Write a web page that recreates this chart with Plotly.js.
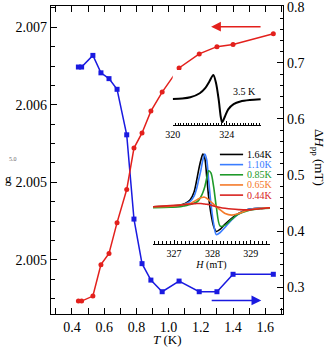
<!DOCTYPE html>
<html><head><meta charset="utf-8">
<script src="https://cdn.plot.ly/plotly-3.0.1.min.js"></script>
<style>html,body{margin:0;padding:0;background:#fff;}#chart{width:327px;height:347px;}</style>
</head><body><div id="chart"></div>
<script>
// Main series
const T = [0.44,0.46,0.53,0.58,0.63,0.68,0.74,0.785,0.835,0.89,0.96,1.065,1.19,1.30,1.40,1.65];
const gFactor = [2.00659,2.00659,2.00671,2.00653,2.00647,2.00636,2.00589,2.00502,2.00456,2.00439,2.00427,2.00438,2.00427,2.00427,2.00445,2.00445];
const dHpp = [0.275,0.275,0.284,0.340,0.360,0.415,0.474,0.548,0.575,0.614,0.648,0.691,0.716,0.729,0.733,0.752];
const gTickVals = [2.0070,2.0062,2.0054,2.0046];
const gTickText = ["2.007","2.006","2.005","2.005"];

// Inset 1: spectrum at 3.5 K
const H1 = [320.0,320.7,321.3,322.0,322.4,322.7,323.0,323.2,323.4,323.55,323.65,323.85,324.1,324.5,325.0,325.7,326.5];
const S35 = [0,0.02,0.07,0.24,0.45,0.72,1.0,0.67,-0.04,-0.74,-0.97,-0.74,-0.43,-0.21,-0.10,-0.04,-0.01];

// Inset 2: spectra at several temperatures
const H2 = [326.45,326.90,327.16,327.29,327.42,327.52,327.59,327.64,327.70,327.75,327.80,327.85,327.90,327.96,328.03,328.10,328.20,328.33,328.50,328.68,328.90,329.24,329.50];
const S164 = [0,0.01,0.03,0.06,0.13,0.28,0.51,0.70,0.89,1.0,0.92,0.57,0.19,-0.13,-0.37,-0.47,-0.43,-0.33,-0.22,-0.13,-0.06,-0.03,-0.02];
const S110 = [0,0,0.02,0.05,0.10,0.20,0.35,0.51,0.70,0.89,1.0,0.89,0.51,0.06,-0.32,-0.53,-0.49,-0.39,-0.25,-0.14,-0.06,-0.03,-0.02];
const S085 = [-0.02,-0.01,0.0,0.02,0.04,0.07,0.09,0.12,0.19,0.27,0.38,0.54,0.68,0.64,0.38,0.0,-0.37,-0.35,-0.24,-0.14,-0.08,-0.04,-0.03];
const S065 = [0,0.01,0.03,0.045,0.06,0.10,0.13,0.15,0.17,0.18,0.18,0.16,0.13,0.09,0.05,0.0,-0.06,-0.13,-0.16,-0.13,-0.07,-0.03,-0.02];
const S044 = [0,0.02,0.03,0.04,0.05,0.055,0.06,0.06,0.06,0.055,0.05,0.045,0.04,0.03,0.015,0.0,-0.015,-0.03,-0.045,-0.055,-0.06,-0.04,-0.02];
const specLabels = ["1.64K","1.10K","0.85K","0.65K","0.44K"];
const specColors = ["#000000","#3a7dff","#1f9a2a","#f47a2a","#d8231f"];
const specData = [S164,S110,S085,S065,S044];

const BLUE = "#1a1ae0", RED = "#e3201c";
const FONT = "Liberation Serif, serif";

const traces = [
  {x:T, y:gFactor, xaxis:'x', yaxis:'y', mode:'lines+markers', line:{color:BLUE,width:1.5},
   marker:{symbol:'square',size:5,color:BLUE}, showlegend:false},
  {x:T, y:dHpp, xaxis:'x', yaxis:'y2', mode:'lines+markers', line:{color:RED,width:1.5},
   marker:{symbol:'circle',size:5,color:RED}, showlegend:false},
  {x:H1, y:S35, xaxis:'x3', yaxis:'y3', mode:'lines', line:{color:'#000',width:2,shape:'spline',smoothing:0.8}, showlegend:false}
];
specData.forEach((s,i)=>{
  traces.push({x:H2, y:s, xaxis:'x4', yaxis:'y4', mode:'lines',
    line:{color:specColors[i],width:1.6,shape:'spline',smoothing:0.8}, showlegend:false});
});

// legend for inset 2 (manual, compact)
const legY = [0.518,0.485,0.452,0.419,0.386];
const shapes = [], annotations = [];
specLabels.forEach((lab,i)=>{
  shapes.push({type:'line', xref:'paper', yref:'paper', x0:0.728, x1:0.828, y0:legY[i], y1:legY[i],
    line:{color:specColors[i], width:1.6}});
  annotations.push({xref:'paper', yref:'paper', x:0.838, y:legY[i], xanchor:'left', yanchor:'middle',
    text:lab, showarrow:false, font:{family:FONT,size:10,color:specColors[i]}});
});

annotations.push(
  {xref:'paper', yref:'paper', x:0.836, y:0.721, text:'3.5 K', showarrow:false, xanchor:'center', yanchor:'middle',
   font:{family:FONT,size:10,color:'#000'}},
  {xref:'paper', yref:'paper', x:0.5, y:-0.083, text:'<i>T</i> (K)', showarrow:false, yanchor:'middle',
   font:{family:FONT,size:13,color:'#000'}},
  {xref:'paper', yref:'paper', x:-0.185, y:0.44, text:'g', showarrow:false, xanchor:'center', yanchor:'middle',
   font:{family:FONT,size:13,color:'#000'}},
  {xref:'paper', yref:'paper', x:1.151, y:0.51, text:'Δ<i>H</i><sub>pp</sub> (mT)', showarrow:false, textangle:90,
   xanchor:'center', yanchor:'middle', font:{family:FONT,size:13,color:'#000'}},
  {xref:'paper', yref:'paper', x:-0.19, y:0.503, text:'5.0', showarrow:false, font:{family:FONT,size:6,color:'#666'}},
  // direction arrows
  {xref:'x', yref:'y2', axref:'x', ayref:'y2', x:1.264, y:0.7645, ax:1.58, ay:0.7645, showarrow:true,
   arrowhead:2, arrowsize:1.3, arrowwidth:1.5, arrowcolor:RED, text:''},
  {xref:'x', yref:'y', axref:'x', ayref:'y', x:1.575, y:2.00418, ax:1.258, ay:2.00418, showarrow:true,
   arrowhead:2, arrowsize:1.3, arrowwidth:1.5, arrowcolor:BLUE, text:''}
);

const axBase = {showgrid:false, zeroline:false, showline:true, linecolor:'#000', linewidth:1.3,
  ticks:'inside', tickcolor:'#000', ticklabeloverflow:'allow', tickfont:{family:FONT,size:14,color:'#000'}};

const layout = {
  width:327, height:347, margin:{l:51,r:44,t:6,b:33}, paper_bgcolor:'#fff', plot_bgcolor:'#fff',
  showlegend:false, font:{family:FONT, color:'#000'},
  xaxis:Object.assign({}, axBase, {range:[0.27,1.71], tickvals:[0.4,0.6,0.8,1.0,1.2,1.4,1.6], ticktext:["0.4","0.6","0.8","1.0","1.2","1.4","1.6"],
    ticklen:6, mirror:'allticks', minor:{tickmode:'linear', tick0:0.4, dtick:0.1, ticklen:3.5, ticks:'inside', tickcolor:'#000'}}),
  yaxis:Object.assign({}, axBase, {range:[2.00404,2.00722], tickmode:'array', tickvals:gTickVals, ticktext:gTickText,
    ticklen:6, minor:{tickmode:'linear', tick0:2.0046, dtick:0.0002, ticklen:3.5, ticks:'inside', tickcolor:'#000'}}),
  yaxis2:Object.assign({}, axBase, {range:[0.252,0.8015], overlaying:'y', side:'right', anchor:'x',
    tickvals:[0.3,0.4,0.5,0.6,0.7,0.8], ticktext:["0.3","0.4","0.5","0.6","0.7","0.8"], ticklen:6,
    minor:{tickmode:'linear', tick0:0.3, dtick:0.02, ticklen:3.5, ticks:'inside', tickcolor:'#000'}}),
  xaxis3:{domain:[0.5246,0.905], anchor:'y3', range:[320,326.52], showgrid:false, zeroline:false, showline:true,
    linecolor:'#000', linewidth:1.3, ticks:'inside', ticklen:4, tickcolor:'#000', tickvals:[320,324], ticktext:["320","324"],
    tickfont:{family:FONT,size:10,color:'#000'},
    minor:{tickmode:'linear', tick0:320, dtick:0.2, ticklen:2.5, ticks:'inside', tickcolor:'#000'}},
  yaxis3:{domain:[0.6136,0.7922], anchor:'x3', range:[-1.083,1.208], visible:false},
  xaxis4:{domain:[0.4397,0.944], anchor:'y4', range:[326.45,329.5], showgrid:false, zeroline:false, showline:true,
    linecolor:'#000', linewidth:1.3, ticks:'inside', ticklen:4, tickcolor:'#000', tickvals:[327,328,329], ticktext:["327","328","329"],
    tickfont:{family:FONT,size:10,color:'#000'},
    title:{text:'<i>H</i> (mT)', font:{family:FONT,size:10,color:'#000'}, standoff:1},
    minor:{tickmode:'linear', tick0:327, dtick:0.1, ticklen:2.5, ticks:'inside', tickcolor:'#000'}},
  yaxis4:{domain:[0.2273,0.539], anchor:'x4', range:[-0.708,1.114], visible:false},
  shapes:shapes, annotations:annotations
};

Plotly.newPlot('chart', traces, layout, {displayModeBar:false, staticPlot:true});
</script></body></html>
